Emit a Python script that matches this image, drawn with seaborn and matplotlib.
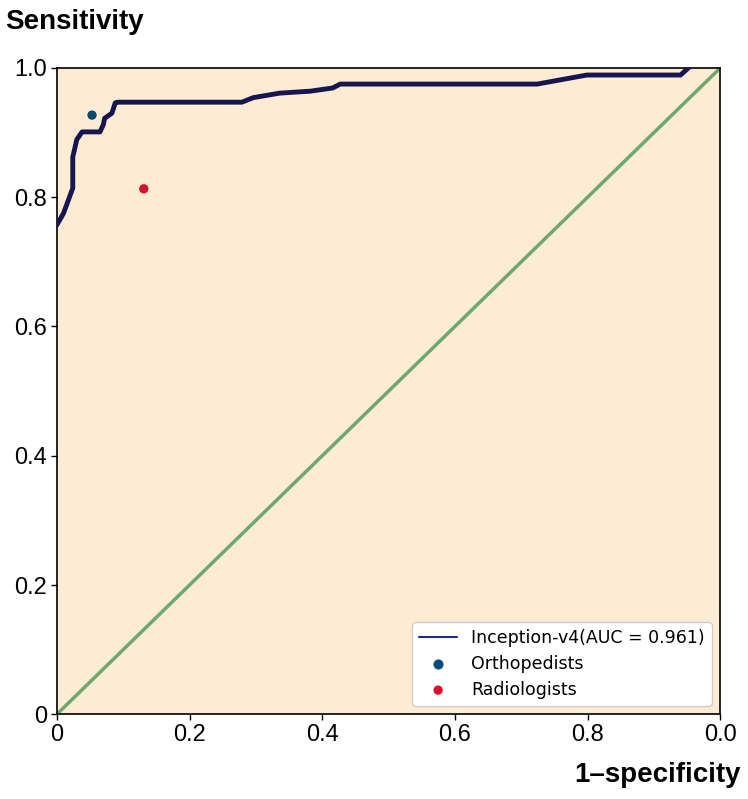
import numpy as np
import pandas as pd
import matplotlib
matplotlib.use("Agg")
import matplotlib.pyplot as plt
import seaborn as sns

# ROC curve points
fpr = [0.0, 0.010, 0.024, 0.024, 0.030, 0.038, 0.065, 0.070, 0.072, 0.083,
       0.088, 0.092, 0.279, 0.296, 0.336, 0.382, 0.416, 0.427, 0.724, 0.799,
       0.940, 0.952]
tpr = [0.757, 0.775, 0.814, 0.862, 0.889, 0.901, 0.901, 0.912, 0.922, 0.930,
       0.946, 0.947, 0.947, 0.954, 0.961, 0.964, 0.969, 0.975, 0.975, 0.989,
       0.989, 1.0]

ortho_x = [0.053]
ortho_y = [0.927]
radio_x = [0.131]
radio_y = [0.813]

xtick_vals = [0, 0.2, 0.4, 0.6, 0.8, 1.0]
xtick_labels = ["0", "0.2", "0.4", "0.6", "0.8", "0.0"]
ytick_vals = [0, 0.2, 0.4, 0.6, 0.8, 1.0]
ytick_labels = ["0", "0.2", "0.4", "0.6", "0.8", "1.0"]

sns.set_style("ticks")
plt.rcParams["font.family"] = ["DejaVu Sans"]
plt.rcParams["text.color"] = "black"
plt.rcParams["xtick.color"] = "black"
plt.rcParams["ytick.color"] = "black"

roc = pd.DataFrame({"fpr": fpr, "tpr": tpr})

fig = plt.figure(figsize=(7.48, 7.99), dpi=100)
ax = fig.add_axes([0.076, 0.106, 0.887, 0.809])
ax.set_facecolor("#fdebd3")

ax.plot([0, 1], [0, 1], color="#6fa86f", lw=2.5, zorder=2)
sns.lineplot(data=roc, x="fpr", y="tpr", sort=False, estimator=None,
             color="#15154f", lw=3.5, ax=ax, zorder=3,
             label="Inception-v4(AUC = 0.961)")
sns.scatterplot(x=ortho_x, y=ortho_y, color="#0d4a6b", s=45, edgecolor="none",
                ax=ax, zorder=4, label="Orthopedists")
sns.scatterplot(x=radio_x, y=radio_y, color="#d8102c", s=45, edgecolor="none",
                ax=ax, zorder=4, label="Radiologists")

ax.set_xlim(0, 1)
ax.set_ylim(0, 1)
ax.set_xticks(xtick_vals)
ax.set_xticklabels(xtick_labels, family="Liberation Sans", fontsize=17)
ax.set_yticks(ytick_vals)
ax.set_yticklabels(ytick_labels, family="Liberation Sans", fontsize=17)
ax.tick_params(length=4, width=1, pad=3)
ax.set_xlabel("")
ax.set_ylabel("")
for sp in ax.spines.values():
    sp.set_color("black")
    sp.set_linewidth(1.2)

leg = ax.legend(loc="lower right", fontsize=12.5, frameon=True, framealpha=1,
                borderaxespad=0.5, handlelength=2.2, labelspacing=0.45)
leg.get_frame().set_edgecolor("#cccccc")
leg.get_frame().set_facecolor("white")
leg.get_lines()[0].set_linewidth(1.5)
leg.get_lines()[0].set_color("#1a2f6e")
leg.legend_handles[1].set_color("#0d4a80")

fig.text(0.007, 0.972, "Sensitivity", family="Liberation Sans",
         fontsize=20, fontweight="bold", ha="left", va="center")
fig.text(0.99, 0.03, "1\u2013specificity", family="Liberation Sans",
         fontsize=20, fontweight="bold", ha="right", va="center")

fig.savefig("out.png", dpi=100)
